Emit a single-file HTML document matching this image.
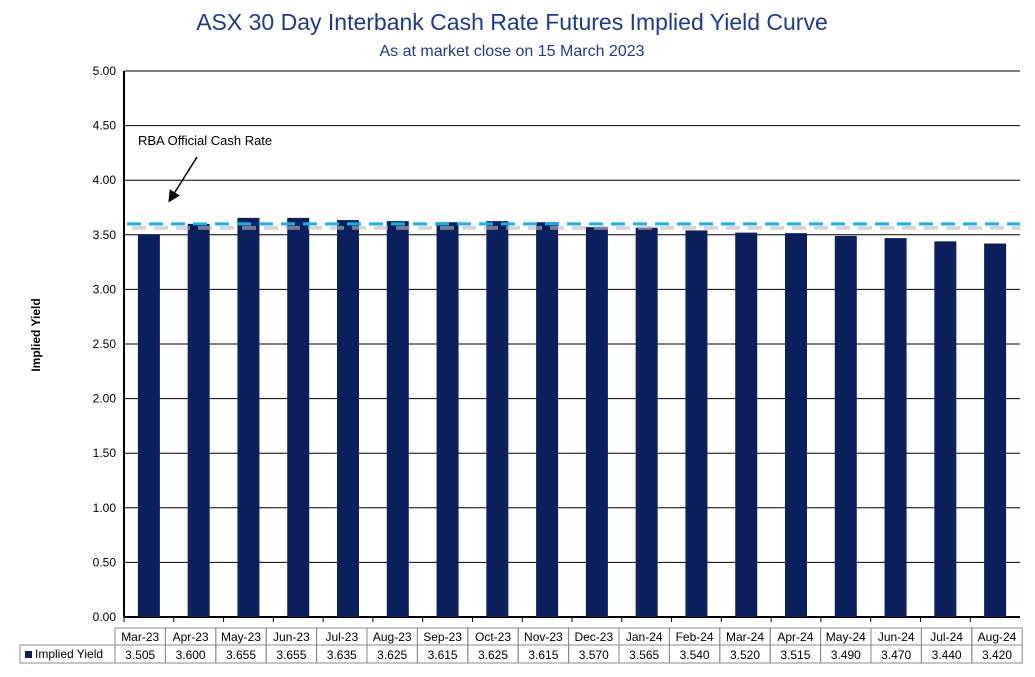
<!DOCTYPE html>
<html><head><meta charset="utf-8"><style>
body{margin:0;background:#fff;font-family:"Liberation Sans",sans-serif;}
svg text{font-family:"Liberation Sans",sans-serif;}
</style></head><body>
<svg id="c" width="1035" height="672">
<text x="512" y="30" text-anchor="middle" font-size="23" fill="#1f3a8a">ASX 30 Day Interbank Cash Rate Futures Implied Yield Curve</text>
<text x="512" y="56" text-anchor="middle" font-size="16" fill="#1f3a8a">As at market close on 15 March 2023</text>
<text transform="translate(40,335) rotate(-90)" text-anchor="middle" font-size="12" font-weight="bold">Implied Yield</text>
<g id="grid"></g><g id="bars"></g><g id="ref"></g><g id="tbl"></g>
<text x="138" y="145" font-size="13">RBA Official Cash Rate</text>
<defs><marker id="ah" markerWidth="8" markerHeight="8" refX="6" refY="4" orient="auto"><path d="M0,0 L8,4 L0,8 z" fill="#000"/></marker></defs>
<line x1="197" y1="157" x2="170" y2="200" stroke="#000" stroke-width="1.5" marker-end="url(#ah)"/>
</svg>
<script>
const categories=["Mar-23","Apr-23","May-23","Jun-23","Jul-23","Aug-23","Sep-23","Oct-23","Nov-23","Dec-23","Jan-24","Feb-24","Mar-24","Apr-24","May-24","Jun-24","Jul-24","Aug-24"];
const values=[3.505,3.600,3.655,3.655,3.635,3.625,3.615,3.625,3.615,3.570,3.565,3.540,3.520,3.515,3.490,3.470,3.440,3.420];
const ticks=[0,0.5,1,1.5,2,2.5,3,3.5,4,4.5,5];
const rbaRate=3.60;
const NS="http://www.w3.org/2000/svg";
const L=124,R=1020,T=71,B=617,yMax=5;
const y=v=>B-(v/yMax)*(B-T);
const bw=(R-L)/categories.length;
const x=i=>L+bw*(i+0.5);
function mk(p,t,a){const e=document.createElementNS(NS,t);for(const k in a)e.setAttribute(k,a[k]);document.getElementById(p).appendChild(e);return e;}
ticks.forEach(t=>{
 const g=mk("grid","line",{x1:L,x2:R,y1:y(t),y2:y(t),stroke:"#000","stroke-width":1});
 
 
 const l=mk("grid","text",{x:L-8,y:y(t)+4,"text-anchor":"end","font-size":12});
 
 
 l.textContent=t.toFixed(2);
});
const ax=mk("grid","line",{x1:L,x2:L,y1:T,y2:B,stroke:"#000","stroke-width":2});


const bx=mk("grid","line",{x1:L,x2:R,y1:B,y2:B,stroke:"#000","stroke-width":2});


categories.forEach((c,i)=>{
 const tk=mk("grid","line",{x1:L+bw*i,x2:L+bw*i,y1:B,y2:B+5,stroke:"#000"});
 
 
 const b=mk("bars","rect",{x:x(i)-11,width:22,y:y(values[i]),height:B-y(values[i]),fill:"#0b1f5c"});
 
 
});
const sh=mk("ref","line",{x1:L+8,x2:R,y1:y(rbaRate)+4,y2:y(rbaRate)+4,stroke:"#bbb","stroke-width":4,"stroke-dasharray":"14,8",opacity:0.6});


const rl=mk("ref","line",{x1:L+3,x2:R,y1:y(rbaRate),y2:y(rbaRate),stroke:"#1ab0ea","stroke-width":3,"stroke-dasharray":"14,8"});


// table
const tx=115,tw=50.4,r1=628,r2=645,r3=663;
const lc=mk("tbl","rect",{x:20,y:r2,width:tx-20,height:r3-r2,fill:"none",stroke:"#888"});


const lk=mk("tbl","rect",{x:25,y:651,width:7,height:7,fill:"#0b1f5c"});


const lt=mk("tbl","text",{x:35,y:658,"font-size":12});


lt.textContent="Implied Yield";
categories.forEach((c,i)=>{
 const cx=tx+tw*i;
 const a=mk("tbl","rect",{x:cx,y:r1,width:tw,height:r2-r1,fill:"none",stroke:"#888"});
 
 
 const b=mk("tbl","rect",{x:cx,y:r2,width:tw,height:r3-r2,fill:"none",stroke:"#888"});
 
 
 const t1=mk("tbl","text",{x:cx+tw/2,y:641,"text-anchor":"middle","font-size":12});
 
 
 t1.textContent=c;
 const t2=mk("tbl","text",{x:cx+tw/2,y:659,"text-anchor":"middle","font-size":12});
 
 
 t2.textContent=values[i].toFixed(3);
});
</script>
</body></html>
